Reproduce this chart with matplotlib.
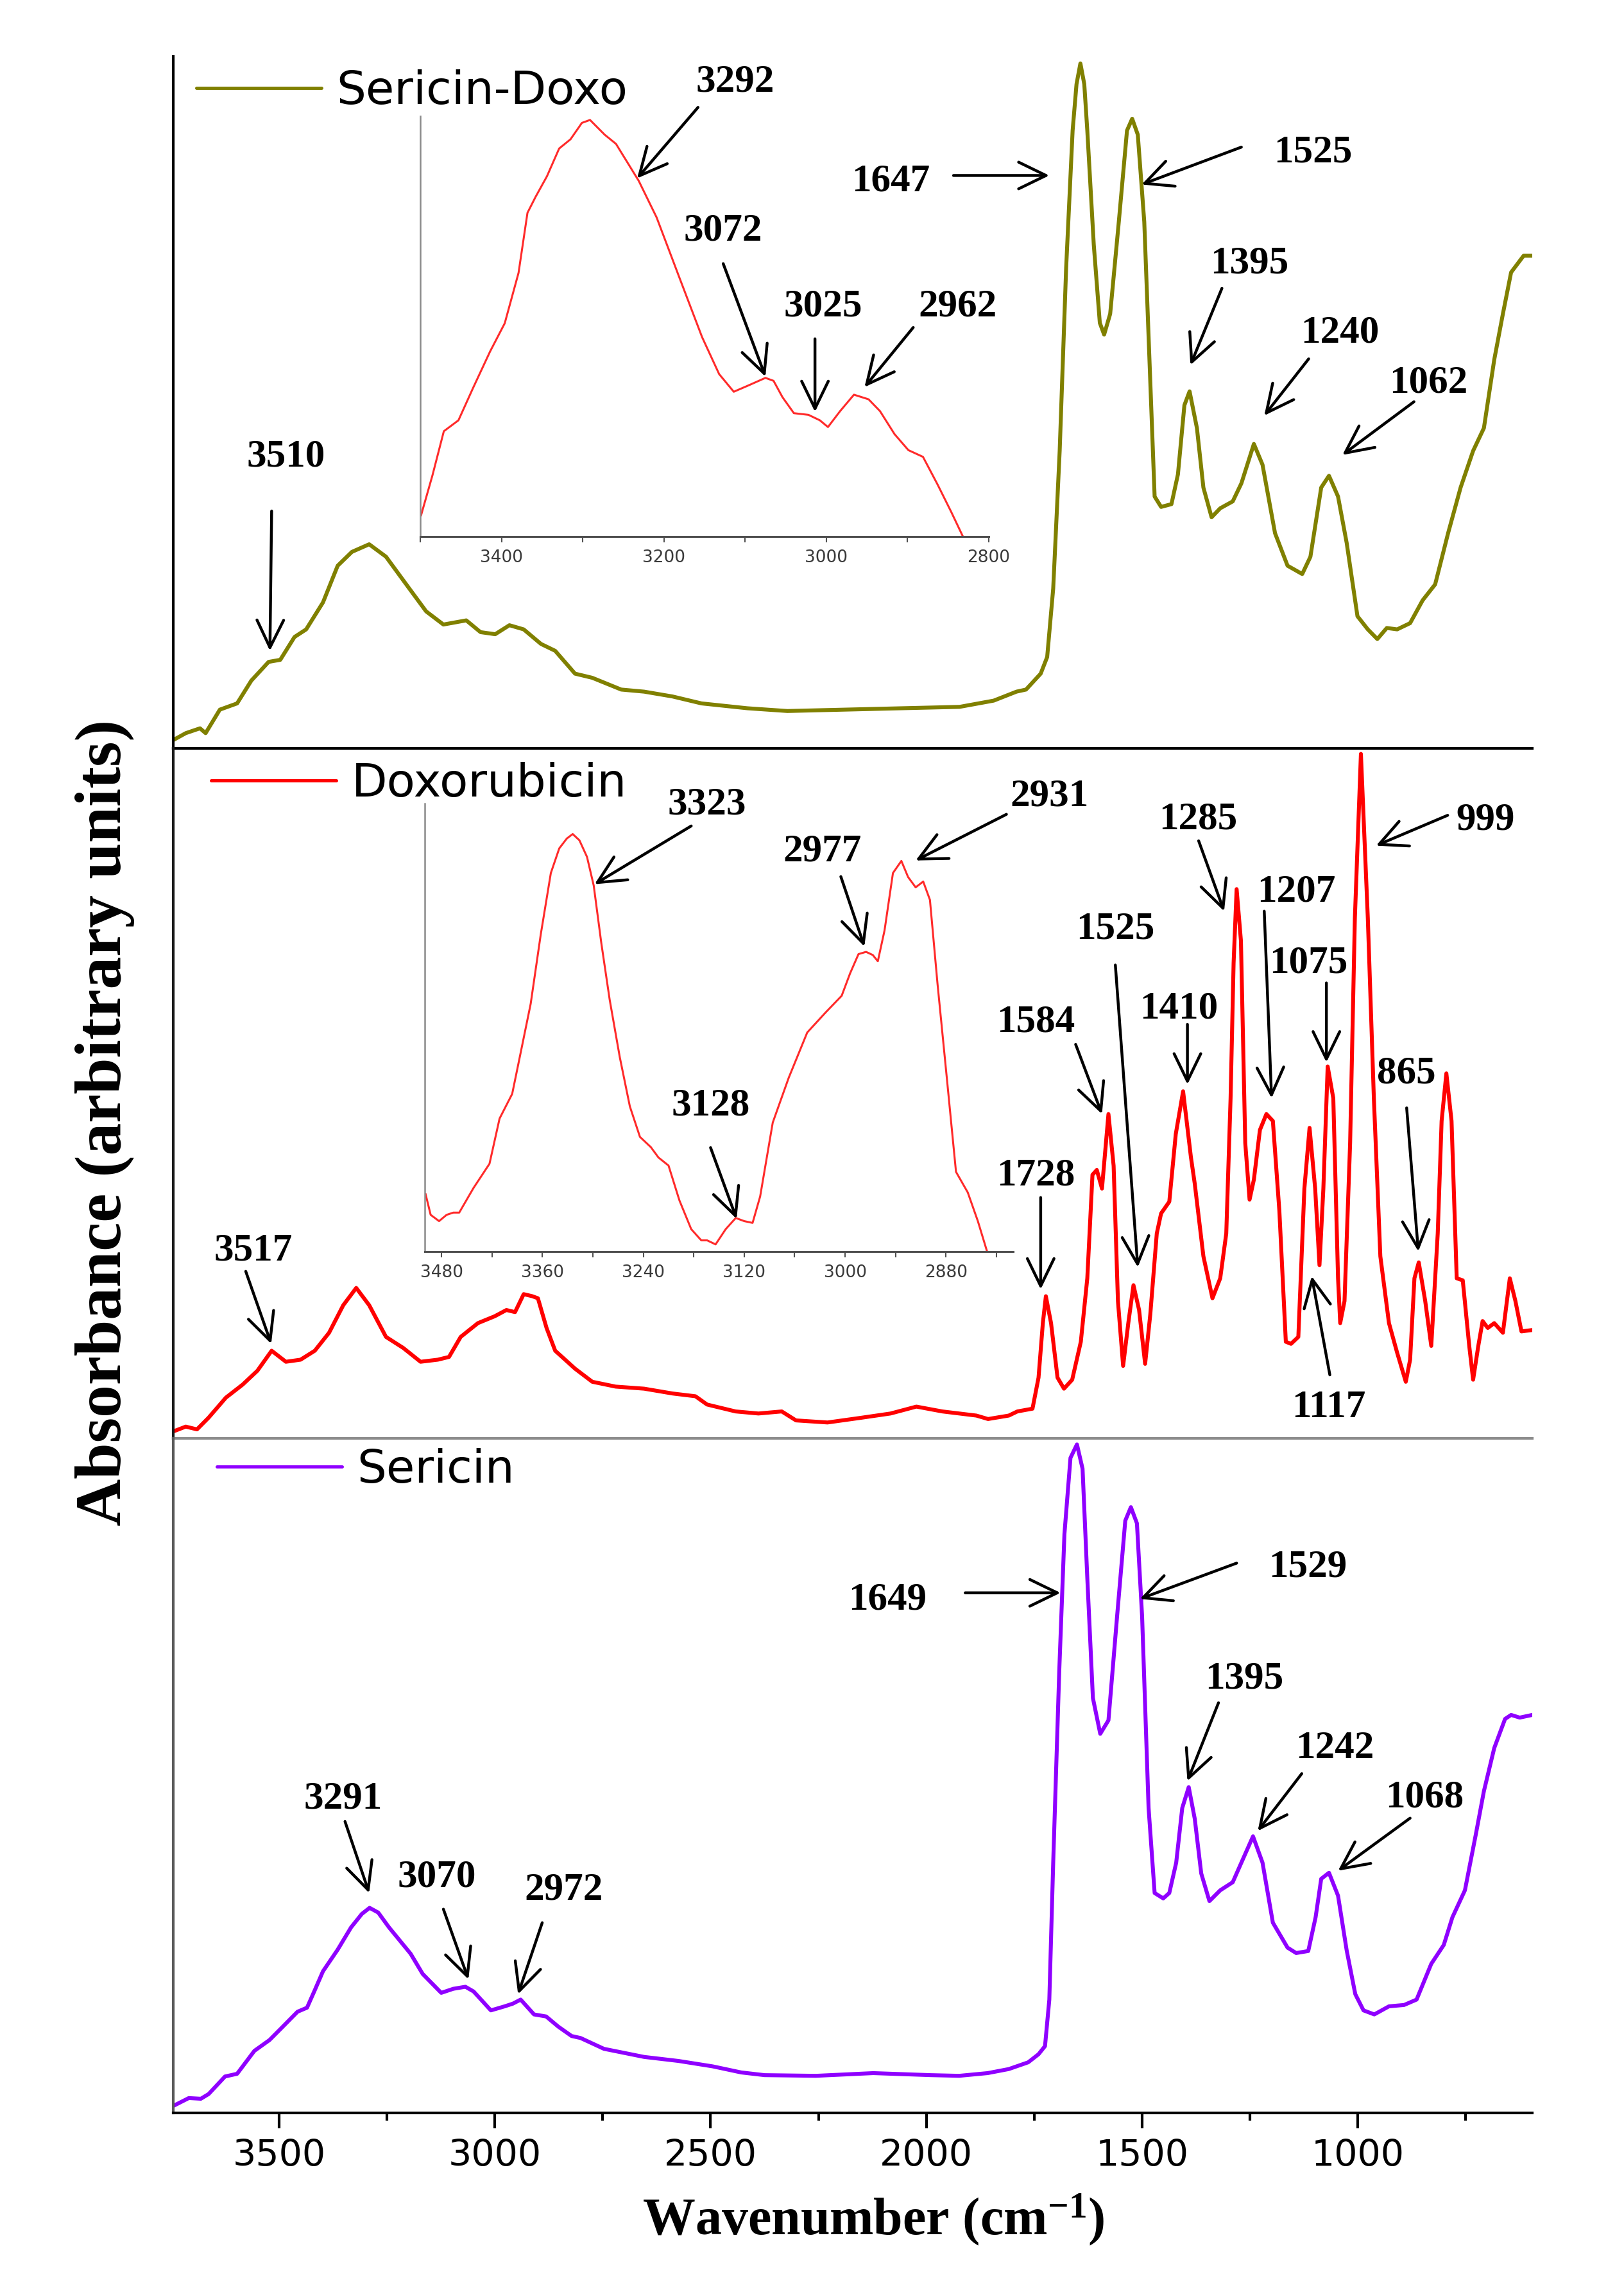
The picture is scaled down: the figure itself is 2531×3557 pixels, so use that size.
import matplotlib
matplotlib.use('Agg')
import matplotlib.pyplot as plt
from matplotlib.ticker import MultipleLocator

# ---- spectra (wavenumber cm-1, absorbance a.u.) ----
sd_wn = [3745, 3716, 3683, 3670, 3637, 3597, 3564, 3524, 3497, 3464, 3437, 3398, 3364, 3331,
         3291, 3252, 3198, 3159, 3119, 3066, 3033, 2999, 2966, 2933, 2893, 2860, 2814, 2774,
         2707, 2654, 2588, 2521, 2415, 2322, 2189, 2057, 1923, 1844, 1791, 1769, 1735, 1720,
         1706, 1691, 1676, 1661, 1652, 1643, 1634, 1627, 1612, 1598, 1588, 1574, 1554, 1535,
         1523, 1510, 1495, 1481, 1471, 1456, 1432, 1417, 1402, 1390, 1373, 1358, 1339, 1319,
         1290, 1270, 1241, 1221, 1192, 1163, 1129, 1110, 1085, 1067, 1046, 1026, 1001, 977,
         955, 933, 909, 879, 850, 821, 791, 762, 733, 708, 684, 664, 645, 616, 596]
sd_abs = [0.012, 0.022, 0.029, 0.022, 0.056, 0.065, 0.098, 0.125, 0.128, 0.161, 0.172, 0.211,
          0.264, 0.284, 0.295, 0.277, 0.231, 0.198, 0.179, 0.185, 0.168, 0.165, 0.178, 0.172,
          0.151, 0.141, 0.108, 0.102, 0.085, 0.082, 0.075, 0.065, 0.058, 0.054, 0.056, 0.058,
          0.060, 0.069, 0.082, 0.085, 0.108, 0.132, 0.231, 0.430, 0.695, 0.893, 0.960, 0.990,
          0.960, 0.893, 0.728, 0.615, 0.598, 0.628, 0.761, 0.893, 0.910, 0.887, 0.761, 0.529,
          0.364, 0.349, 0.353, 0.396, 0.496, 0.516, 0.463, 0.377, 0.334, 0.347, 0.357, 0.383,
          0.440, 0.410, 0.311, 0.264, 0.252, 0.277, 0.377, 0.394, 0.364, 0.297, 0.191, 0.172,
          0.158, 0.174, 0.172, 0.181, 0.214, 0.237, 0.311, 0.377, 0.430, 0.463, 0.562, 0.628,
          0.688, 0.712, 0.712]

dox_wn = [3745, 3716, 3690, 3663, 3623, 3584, 3550, 3517, 3484, 3450, 3417, 3384, 3351, 3321,
          3291, 3252, 3212, 3172, 3132, 3106, 3079, 3039, 3000, 2973, 2953, 2933, 2913, 2900,
          2880, 2860, 2814, 2774, 2720, 2654, 2588, 2535, 2508, 2442, 2389, 2335, 2302, 2229,
          2149, 2083, 2023, 1963, 1884, 1857, 1809, 1789, 1754, 1740, 1730, 1723, 1711, 1696,
          1681, 1662, 1642, 1627, 1615, 1605, 1593, 1578, 1566, 1556, 1544, 1532, 1520, 1507,
          1493, 1481, 1466, 1456, 1437, 1422, 1405, 1387, 1378, 1358, 1337, 1319, 1305, 1295,
          1288, 1281, 1271, 1261, 1251, 1241, 1227, 1212, 1197, 1182, 1167, 1155, 1138, 1124,
          1112, 1099, 1089, 1080, 1070, 1057, 1046, 1041, 1031, 1018, 1007, 993, 977, 963, 948,
          928, 909, 889, 879, 869, 859, 844, 830, 815, 806, 795, 783, 771, 757, 742, 733, 721,
          711, 699, 684, 664, 648, 635, 621, 596]
dox_abs = [0.010, 0.017, 0.013, 0.030, 0.059, 0.078, 0.098, 0.127, 0.111, 0.114, 0.127, 0.153,
           0.193, 0.218, 0.193, 0.147, 0.131, 0.111, 0.114, 0.118, 0.147, 0.167, 0.177, 0.186,
           0.183, 0.209, 0.206, 0.203, 0.160, 0.127, 0.101, 0.082, 0.075, 0.072, 0.065, 0.061,
           0.049, 0.039, 0.036, 0.039, 0.026, 0.023, 0.030, 0.036, 0.046, 0.039, 0.033, 0.028,
           0.033, 0.039, 0.043, 0.088, 0.167, 0.206, 0.167, 0.088, 0.072, 0.085, 0.140, 0.232,
           0.382, 0.389, 0.362, 0.470, 0.395, 0.199, 0.105, 0.167, 0.222, 0.186, 0.108, 0.180,
           0.297, 0.326, 0.343, 0.441, 0.503, 0.408, 0.369, 0.264, 0.203, 0.232, 0.297, 0.493,
           0.689, 0.796, 0.721, 0.428, 0.346, 0.375, 0.447, 0.470, 0.460, 0.330, 0.140, 0.137,
           0.147, 0.362, 0.450, 0.362, 0.251, 0.362, 0.539, 0.493, 0.232, 0.167, 0.199, 0.428,
           0.754, 0.992, 0.754, 0.493, 0.264, 0.167, 0.124, 0.082, 0.114, 0.232, 0.255, 0.199,
           0.134, 0.297, 0.460, 0.529, 0.460, 0.232, 0.229, 0.134, 0.085, 0.134, 0.170, 0.160,
           0.167, 0.153, 0.232, 0.199, 0.155, 0.157]

ser_wn = [3746, 3709, 3681, 3663, 3625, 3597, 3557, 3522, 3494, 3457, 3435, 3417, 3398, 3364,
          3333, 3308, 3290, 3270, 3245, 3195, 3167, 3124, 3096, 3068, 3049, 3009, 2977, 2958,
          2940, 2909, 2881, 2853, 2822, 2801, 2747, 2654, 2574, 2495, 2429, 2375, 2256, 2123,
          1990, 1924, 1858, 1809, 1764, 1740, 1725, 1715, 1706, 1692, 1680, 1666, 1651, 1638,
          1627, 1614, 1597, 1578, 1558, 1539, 1526, 1512, 1500, 1485, 1471, 1451, 1437, 1421,
          1407, 1392, 1378, 1363, 1344, 1319, 1290, 1270, 1243, 1221, 1197, 1163, 1143, 1115,
          1098, 1085, 1067, 1046, 1026, 1006, 987, 962, 928, 893, 864, 830, 801, 781, 752, 727,
          708, 684, 659, 645, 625, 596]
ser_abs = [0.010, 0.022, 0.021, 0.028, 0.054, 0.058, 0.092, 0.108, 0.126, 0.150, 0.156, 0.182,
           0.210, 0.242, 0.275, 0.295, 0.304, 0.297, 0.275, 0.236, 0.206, 0.178, 0.184, 0.187,
           0.180, 0.152, 0.158, 0.162, 0.168, 0.146, 0.143, 0.128, 0.114, 0.111, 0.095, 0.083,
           0.077, 0.069, 0.060, 0.056, 0.055, 0.059, 0.056, 0.055, 0.059, 0.065, 0.075, 0.087,
           0.099, 0.168, 0.371, 0.655, 0.858, 0.971, 0.991, 0.955, 0.793, 0.615, 0.562, 0.582,
           0.736, 0.878, 0.898, 0.874, 0.736, 0.452, 0.326, 0.318, 0.326, 0.371, 0.452, 0.483,
           0.436, 0.355, 0.314, 0.330, 0.342, 0.371, 0.410, 0.371, 0.282, 0.245, 0.237, 0.240,
           0.290, 0.347, 0.356, 0.322, 0.241, 0.176, 0.152, 0.146, 0.158, 0.160, 0.168, 0.221,
           0.249, 0.290, 0.330, 0.412, 0.477, 0.541, 0.584, 0.590, 0.586, 0.590]

# zoomed 3500-2800 cm-1 insets
sd_in_wn = [3499, 3485, 3471, 3453, 3435, 3414, 3396, 3379, 3368, 3358, 3344, 3329, 3315, 3301,
            3291, 3273, 3259, 3245, 3231, 3209, 3181, 3153, 3132, 3114, 3096, 3075, 3065, 3054,
            3040, 3022, 3008, 2998, 2983, 2966, 2948, 2934, 2916, 2899, 2881, 2863, 2846, 2832]
sd_in_abs = [0.050, 0.145, 0.250, 0.276, 0.353, 0.440, 0.507, 0.627, 0.770, 0.808, 0.857, 0.923,
             0.945, 0.984, 0.991, 0.956, 0.934, 0.890, 0.846, 0.759, 0.616, 0.474, 0.386, 0.344,
             0.359, 0.377, 0.370, 0.331, 0.293, 0.289, 0.276, 0.260, 0.298, 0.337, 0.326, 0.298,
             0.243, 0.205, 0.189, 0.123, 0.057, 0.000]

dox_in_wn = [3499, 3493, 3483, 3474, 3466, 3459, 3442, 3423, 3411, 3396, 3387, 3374, 3362, 3350,
             3340, 3331, 3324, 3316, 3307, 3299, 3290, 3280, 3268, 3256, 3244, 3231, 3222, 3210,
             3197, 3183, 3171, 3164, 3154, 3142, 3130, 3120, 3110, 3101, 3086, 3067, 3045, 3023,
             3004, 2994, 2984, 2975, 2967, 2961, 2953, 2943, 2933, 2925, 2916, 2907, 2899, 2890,
             2878, 2868, 2854, 2842, 2831]
dox_in_abs = [0.128, 0.082, 0.068, 0.082, 0.087, 0.087, 0.142, 0.196, 0.297, 0.352, 0.434, 0.553,
              0.708, 0.845, 0.900, 0.922, 0.932, 0.918, 0.881, 0.817, 0.689, 0.562, 0.434, 0.324,
              0.256, 0.233, 0.210, 0.192, 0.114, 0.050, 0.025, 0.025, 0.016, 0.050, 0.075, 0.068,
              0.064, 0.123, 0.288, 0.388, 0.489, 0.534, 0.571, 0.621, 0.664, 0.669, 0.662, 0.648,
              0.717, 0.845, 0.872, 0.836, 0.813, 0.826, 0.785, 0.598, 0.370, 0.178, 0.132, 0.068,
              0.000]

main_ticks = [3500, 3000, 2500, 2000, 1500, 1000]

# peak labels: (text, text position, arrow tail, arrow head) in data units of each axes
sd_notes = [
    ('3510', (3484, 0.428), (3517, 0.343), (3521, 0.141)),
    ('1647', (2083, 0.826), (1937, 0.828), (1715, 0.828)),
    ('1525', (1104, 0.867), (1270, 0.869), (1501, 0.815)),
    ('1395', (1251, 0.707), (1315, 0.665), (1388, 0.554)),
    ('1240', (1041, 0.607), (1114, 0.563), (1217, 0.481)),
    ('1062', (836, 0.534), (870, 0.501), (1036, 0.424)),
]
sd_in_notes = [
    ('3292', (3112, 1.092), (3158, 1.021), (3233, 0.852)),
    ('3072', (3127, 0.737), (3127, 0.649), (3075, 0.380)),
    ('3025', (3004, 0.557), (3014, 0.470), (3014, 0.296)),
    ('2962', (2838, 0.557), (2893, 0.497), (2953, 0.355)),
]
dox_notes = [
    ('3517', (3560, 0.278), (3577, 0.242), (3518, 0.137)),
    ('1728', (1746, 0.387), (1735, 0.349), (1735, 0.216)),
    ('1584', (1746, 0.609), (1654, 0.571), (1593, 0.470)),
    ('1525', (1562, 0.744), (1562, 0.686), (1510, 0.248)),
    ('1410', (1415, 0.629), (1395, 0.600), (1395, 0.513)),
    ('1285', (1370, 0.903), (1369, 0.866), (1310, 0.764)),
    ('1207', (1143, 0.798), (1217, 0.764), (1200, 0.493)),
    ('1075', (1114, 0.695), (1073, 0.660), (1073, 0.545)),
    ('1117', (1067, 0.051), (1065, 0.092), (1107, 0.235)),
    ('999', (705, 0.902), (792, 0.903), (958, 0.859)),
    ('865', (888, 0.535), (887, 0.479), (860, 0.271)),
]
dox_in_notes = [
    ('3323', (3164, 1.007), (3183, 0.950), (3298, 0.820)),
    ('2977', (3027, 0.902), (3005, 0.837), (2977, 0.681)),
    ('2931', (2757, 1.026), (2808, 0.976), (2916, 0.873)),
    ('3128', (3160, 0.335), (3160, 0.232), (3129, 0.073)),
]
ser_notes = [
    ('3291', (3351, 0.472), (3347, 0.432), (3291, 0.326)),
    ('3070', (3134, 0.356), (3119, 0.302), (3061, 0.198)),
    ('2972', (2840, 0.337), (2890, 0.282), (2946, 0.176)),
    ('1649', (2090, 0.767), (1910, 0.771), (1689, 0.771)),
    ('1529', (1116, 0.815), (1281, 0.815), (1505, 0.762)),
    ('1395', (1263, 0.650), (1323, 0.608), (1395, 0.492)),
    ('1242', (1054, 0.547), (1130, 0.503), (1232, 0.418)),
    ('1068', (845, 0.474), (879, 0.437), (1046, 0.359)),
]

plt.rcParams['font.family'] = ['DejaVu Sans']
plt.rcParams['mathtext.fontset'] = 'custom'
plt.rcParams['mathtext.rm'] = 'Liberation Serif:bold'
plt.rcParams['mathtext.bf'] = 'Liberation Serif:bold'
plt.rcParams['mathtext.it'] = 'Liberation Serif:bold:italic'

W, H = 2531, 3557
fig = plt.figure(figsize=(W / 100, H / 100), dpi=100)


def box(l, t, r, b):
    # pixel box (left, top, right, bottom) -> figure fraction rect
    return [l / W, 1 - b / H, (r - l) / W, (b - t) / H]


def panel(rect, left_color, bottom_color):
    ax = fig.add_axes(rect)
    ax.set_facecolor('none')
    ax.set_xlim(3745, 596)
    ax.set_ylim(0, 1)
    ax.spines['top'].set_visible(False)
    ax.spines['right'].set_visible(False)
    ax.spines['left'].set_color(left_color)
    ax.spines['bottom'].set_color(bottom_color)
    ax.spines['left'].set_linewidth(3)
    ax.spines['bottom'].set_linewidth(3)
    ax.set_yticks([])
    ax.tick_params(axis='x', which='both', bottom=False, labelbottom=False)
    return ax


def inset(rect, major, minor):
    ax = fig.add_axes(rect)
    ax.set_facecolor('none')
    ax.set_xlim(3500, 2800)
    ax.set_ylim(0, 1)
    ax.spines['top'].set_visible(False)
    ax.spines['right'].set_visible(False)
    ax.spines['left'].set_color('#8a8a8a')
    ax.spines['left'].set_linewidth(1.8)
    ax.spines['bottom'].set_color('#505050')
    ax.spines['bottom'].set_linewidth(2.2)
    ax.set_yticks([])
    ax.xaxis.set_major_locator(MultipleLocator(major))
    ax.xaxis.set_minor_locator(MultipleLocator(minor))
    ax.tick_params(axis='x', which='both', direction='out', length=6.5, width=1.5,
                   color='#505050', labelsize=19, labelcolor='#3a3a3a', pad=8)
    return ax


def label_peaks(ax, notes):
    for text, txt_xy, tail, head in notes:
        ax.annotate('', xy=head, xytext=tail, annotation_clip=False,
                    arrowprops=dict(arrowstyle='->,head_length=0.7,head_width=0.34',
                                    lw=3.2, color='black', shrinkA=0, shrinkB=0,
                                    mutation_scale=44))
        ax.text(txt_xy[0], txt_xy[1], text, ha='center', va='center_baseline',
                fontsize=44, fontfamily='Liberation Serif', fontweight='bold',
                clip_on=False)


ax_top = panel(box(270, 88, 2388, 1166), 'black', 'black')
ax_mid = panel(box(270, 1166, 2388, 2241), '#1a1a1a', '#8c8c8c')
ax_bot = panel(box(270, 2241, 2388, 3292), '#5a5a5a', 'black')

line_kw = dict(lw=4.4, solid_joinstyle='round', solid_capstyle='round')
ax_top.plot(sd_wn, sd_abs, color='#808000', label='Sericin-Doxo', **line_kw)
ax_mid.plot(dox_wn, dox_abs, color='#ff0000', label='Doxorubicin', **line_kw)
ax_bot.plot(ser_wn, ser_abs, color='#8f00ff', label='Sericin', **line_kw)

for ax, x0, y0 in [(ax_top, 0.017, 0.949), (ax_mid, 0.028, 0.948), (ax_bot, 0.032, 0.953)]:
    leg = ax.legend(loc='center left', bbox_to_anchor=(x0, y0), frameon=False, fontsize=52,
                    handlelength=2.7, handletextpad=0.32, borderpad=0, borderaxespad=0)
    for h in leg.get_lines():
        h.set_linewidth(3.6)

# bottom axis carries the wavenumber scale
ax_bot.xaxis.set_minor_locator(MultipleLocator(250))
ax_bot.set_xticks(main_ticks)
ax_bot.set_xticklabels([str(t) for t in main_ticks])
ax_bot.tick_params(axis='x', which='both', bottom=True, labelbottom=True, direction='out',
                   width=3, color='black')
ax_bot.tick_params(axis='x', which='major', length=17, labelsize=41, pad=12)
ax_bot.tick_params(axis='x', which='minor', length=8.5)

label_peaks(ax_top, sd_notes)
label_peaks(ax_mid, dox_notes)
label_peaks(ax_bot, ser_notes)

ins_top = inset(box(655, 181, 1541, 835.5), 200, 100)
ins_top.plot(sd_in_wn, sd_in_abs, color='#ff2a2a', lw=2.2, solid_joinstyle='round')
label_peaks(ins_top, sd_in_notes)

ins_mid = inset(box(662, 1252, 1579, 1950), 120, 60)
ins_mid.plot(dox_in_wn, dox_in_abs, color='#ff2a2a', lw=2.2, solid_joinstyle='round')
label_peaks(ins_mid, dox_in_notes)

fig.text(1361 / W, 1 - 3482 / H, 'Wavenumber (cm$^{-1}$)', ha='center', va='baseline',
         fontsize=59, fontfamily='Liberation Serif', fontweight='bold')
fig.text(164 / W, 1 - 1749 / H, 'Absorbance (arbitrary units)', rotation=90,
         ha='center', va='center', fontsize=73, fontfamily='Liberation Serif',
         fontweight='bold')

fig.savefig('out.png', dpi=100, facecolor='white')
